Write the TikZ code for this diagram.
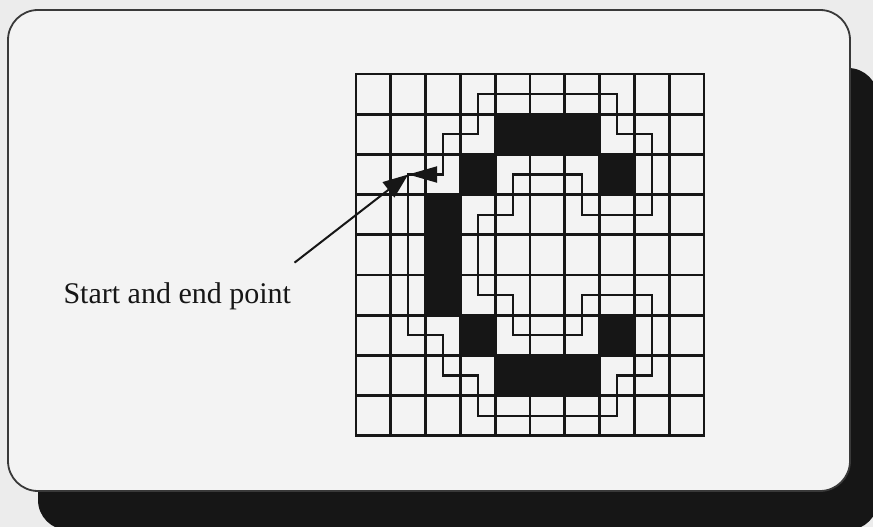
\documentclass[tikz,border=0pt]{standalone}
\usepackage{fontspec}
\setmainfont{Liberation Serif}
\usepackage{xcolor}
\usetikzlibrary{arrows.meta}
\definecolor{paper}{HTML}{ECECEC}
\definecolor{card}{HTML}{F3F3F3}
\definecolor{ink}{HTML}{161616}

\begin{document}
\begin{tikzpicture}[x=1pt,y=-1pt,
    gridline/.style={line width=2.8pt,draw=ink},
    contour/.style={line width=2.2pt,draw=ink,line join=miter},
    pixel/.style={fill=ink}]
  \useasboundingbox (0,0) rectangle (873,527);
  \fill[paper] (0,0) rectangle (873,527);
  % shadow and card
  \fill[ink,rounded corners=30pt] (38,68) rectangle (878,530);
  \filldraw[fill=card,draw=ink!85,line width=1.8pt,rounded corners=30pt] (8,10) rectangle (850,491);
  % pixel grid
  \begin{scope}[shift={(356,74)},x=34.8pt,y=-40.2pt]
    \foreach \c/\r in {4/1,5/1,6/1,3/2,7/2,2/3,2/4,2/5,3/6,7/6,4/7,5/7,6/7}
      \fill[pixel] (\c,\r) rectangle +(1,1);
    \foreach \c in {0,...,10}
      \draw[gridline] (\c,0) -- (\c,9);
    \foreach \r in {0,...,9}
      \draw[gridline] (0,\r) -- (10,\r);
    \draw[gridline] (0,0) rectangle (10,9);
    % traced boundary through cell centres
    \begin{scope}[shift={(0.5,0.5)}]
      \draw[contour] (2,2) -- (2,1) -- (3,1) -- (3,0) -- (7,0) -- (7,1) -- (8,1) -- (8,3)
        -- (6,3) -- (6,2) -- (4,2) -- (4,3) -- (3,3) -- (3,5) -- (4,5) -- (4,6) -- (6,6)
        -- (6,5) -- (8,5) -- (8,7) -- (7,7) -- (7,8) -- (3,8) -- (3,7) -- (2,7) -- (2,6)
        -- (1,6) -- (1,2) -- cycle;
      \coordinate (next) at (2,2);
      \coordinate (start) at (1,2);
      \draw[contour,-{Triangle[length=29pt,width=16pt]}] (next) -- (start);
    \end{scope}
  \end{scope}
  % label and pointer
  \node[anchor=base west,font=\fontsize{30}{36}\selectfont,text=ink] (lbl) at (60,303) {Start and end point};
  \draw[line width=2pt,draw=ink,-{Triangle[length=25pt,width=19pt]}] ([yshift=16pt]lbl.north east) -- (start);
\end{tikzpicture}
\end{document}
